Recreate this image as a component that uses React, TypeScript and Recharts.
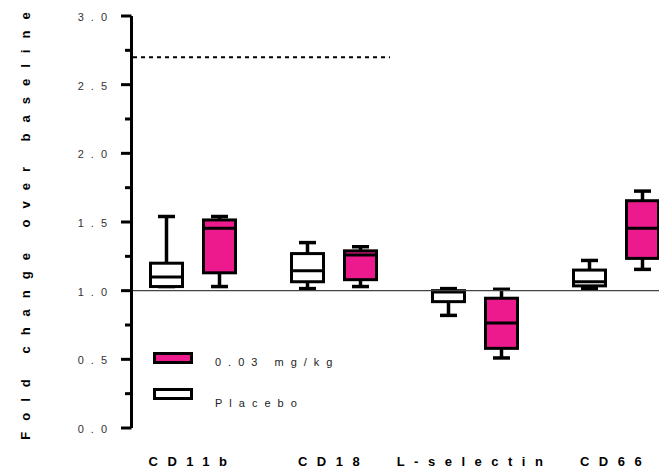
import React from "react";
import {
  Bar,
  ComposedChart,
  Legend,
  ReferenceLine,
  XAxis,
  YAxis
} from "recharts";

const categories = ["CD11b", "CD18", "L-selectin", "CD66"];

// placebo box stats
const placeboMin = [1.03, 1.015, 0.82, 1.015];
const placeboQ1 = [1.03, 1.065, 0.92, 1.035];
const placeboMedian = [1.1, 1.145, 0.99, 1.065];
const placeboQ3 = [1.2, 1.27, 1.0, 1.15];
const placeboMax = [1.54, 1.35, 1.015, 1.22];

// 0.03 mg/kg box stats
const drugMin = [1.03, 1.03, 0.51, 1.155];
const drugQ1 = [1.13, 1.08, 0.58, 1.235];
const drugMedian = [1.455, 1.26, 0.765, 1.455];
const drugQ3 = [1.515, 1.29, 0.945, 1.655];
const drugMax = [1.54, 1.32, 1.01, 1.725];

const yTicks = [0, 0.25, 0.5, 0.75, 1, 1.25, 1.5, 1.75, 2, 2.25, 2.5, 2.75, 3];
const threshold = 2.7;
// dashed threshold runs from just right of the axis to between CD18 and L-selectin
const thresholdFrom = 0.0585;
const thresholdTo = 1.4255;

const PINK = "#EC1A8C";
const FONT = "'Liberation Sans', Arial, sans-serif";

const rows = categories.map((name, i) => ({
  name,
  pMin: placeboMin[i],
  pQ1: placeboQ1[i],
  pMed: placeboMedian[i],
  pQ3: placeboQ3[i],
  pMax: placeboMax[i],
  dMin: drugMin[i],
  dQ1: drugQ1[i],
  dMed: drugMedian[i],
  dQ3: drugQ3[i],
  dMax: drugMax[i]
}));

const legendItems = [
  { label: "0.03 mg/kg", fill: PINK },
  { label: "Placebo", fill: "#fff" }
];

const makeBox = (k: "p" | "d", fill: string) => (props: any) => {
  const { x, y, width, height, payload } = props;
  const lo = payload[k + "Min"];
  const hi = payload[k + "Max"];
  const q1 = payload[k + "Q1"];
  const q3 = payload[k + "Q3"];
  const med = payload[k + "Med"];
  const per = height / (hi - lo);
  const py = (v: number) => y + (hi - v) * per;
  const cx = x + width / 2;
  const cap = 17;
  return (
    <g>
      <line x1={cx} x2={cx} y1={py(hi)} y2={py(q3)} stroke="#000" strokeWidth={3.5} />
      <line x1={cx} x2={cx} y1={py(q1)} y2={py(lo)} stroke="#000" strokeWidth={3.5} />
      <line x1={cx - cap / 2} x2={cx + cap / 2} y1={py(hi)} y2={py(hi)} stroke="#000" strokeWidth={3.5} />
      <line x1={cx - cap / 2} x2={cx + cap / 2} y1={py(lo)} y2={py(lo)} stroke="#000" strokeWidth={3.5} />
      <rect
        x={x + 1.5}
        y={py(q3)}
        width={width - 3}
        height={Math.max(py(q1) - py(q3), 0.5)}
        fill={fill}
        stroke="#000"
        strokeWidth={3}
      />
      <line x1={x} x2={x + width} y1={py(med)} y2={py(med)} stroke="#000" strokeWidth={3} />
    </g>
  );
};

function YTick({ x, y, payload }: any) {
  const v = payload.value as number;
  const major = Math.abs(v * 2 - Math.round(v * 2)) < 1e-6;
  return (
    <g>
      <line x1={x - (major ? 10.5 : 6.5)} x2={x} y1={y} y2={y} stroke="#000" strokeWidth={3} />
      {major && (
        <text
          x={x - 17.5}
          y={y}
          dy={5}
          textAnchor="end"
          fontFamily={FONT}
          fontSize={11}
          letterSpacing={7}
          fill="#333"
        >
          {v.toFixed(1)}
        </text>
      )}
    </g>
  );
}

function XTick({ x, y, payload }: any) {
  return (
    <text
      x={x}
      y={y + 38}
      textAnchor="middle"
      fontFamily={FONT}
      fontSize={13}
      fontWeight="bold"
      letterSpacing={9.5}
      fill="#000"
    >
      {payload.value}
    </text>
  );
}

function YLabel() {
  return (
    <text
      x={30}
      y={220.5}
      transform="rotate(-90, 30, 220.5)"
      textAnchor="middle"
      fontFamily={FONT}
      fontSize={13}
      fontWeight="bold"
      letterSpacing={11}
      fill="#000"
    >
      Fold change over baseline
    </text>
  );
}

function LegendBox() {
  return (
    <svg width={200} height={70} style={{ display: "block" }}>
      {legendItems.map((it, i) => (
        <g key={it.label}>
          <rect x={4.5} y={5.5 + i * 36} width={37} height={9} fill={it.fill} stroke="#000" strokeWidth={3} />
          <text
            x={65}
            y={18 + i * 41}
            fontFamily={FONT}
            fontSize={11}
            letterSpacing={7}
            fill="#222"
          >
            {it.label}
          </text>
        </g>
      ))}
    </svg>
  );
}

export default function App() {
  return (
    <div
      style={{
        position: "fixed",
        left: 0,
        top: 0,
        width: 659,
        height: 470,
        overflow: "hidden",
        background: "#fff"
      }}
    >
      <ComposedChart
        width={700}
        height={470}
        data={rows}
        margin={{ top: 16, right: 0, bottom: 0, left: 0 }}
        barGap={18}
      >
        <XAxis
          dataKey="name"
          type="category"
          axisLine={false}
          tickLine={false}
          tickSize={0}
          tickMargin={0}
          height={42}
          padding={{ left: -9.5, right: 14 }}
          tick={<XTick />}
          interval={0}
        />
        <XAxis
          xAxisId="pos"
          type="number"
          domain={[0, 3]}
          allowDataOverflow
          hide
          padding={{ left: -9.5, right: 14 }}
        />
        <YAxis
          type="number"
          domain={[0, 3]}
          ticks={yTicks}
          interval={0}
          width={131.5}
          axisLine={{ stroke: "#000", strokeWidth: 3 }}
          tickLine={false}
          tickSize={0}
          tickMargin={0}
          tick={<YTick />}
          label={<YLabel />}
        />
        <ReferenceLine y={1} stroke="#444" strokeWidth={1.3} />
        <ReferenceLine
          xAxisId="pos"
          segment={[
            { x: thresholdFrom, y: threshold },
            { x: thresholdTo, y: threshold }
          ]}
          stroke="#000"
          strokeWidth={2}
          strokeDasharray="4 4"
        />
        <Bar
          dataKey={(d: any) => [d.pMin, d.pMax]}
          name="Placebo"
          barSize={35}
          shape={makeBox("p", "#fff")}
          isAnimationActive={false}
        />
        <Bar
          dataKey={(d: any) => [d.dMin, d.dMax]}
          name="0.03 mg/kg"
          barSize={35}
          shape={makeBox("d", PINK)}
          isAnimationActive={false}
        />
        <Legend
          layout="vertical"
          align="center"
          verticalAlign="middle"
          content={() => <LegendBox />}
          wrapperStyle={{ left: 150, top: 348, width: 200 }}
        />
      </ComposedChart>
    </div>
  );
}
